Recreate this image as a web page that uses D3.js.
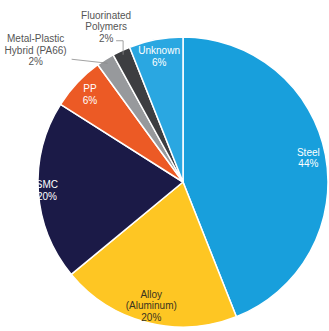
<!DOCTYPE html>
<html>
<head>
<meta charset="utf-8">
<script src="https://cdn.jsdelivr.net/npm/d3@7"></script>
<style>
  html, body { margin: 0; padding: 0; background: #fff; }
  svg { display: block; }
  text { font-family: "Liberation Sans", Arial, sans-serif; font-size: 10px; }
</style>
</head>
<body>
<svg id="chart" width="329" height="331"></svg>
<script>
// Material shares (percent), clockwise from 12 o'clock
const categories = ["Steel", "Alloy (Aluminum)", "SMC", "PP", "Metal-Plastic Hybrid (PA66)", "Fluorinated Polymers", "Unknown"];
const shares = [44, 20, 20, 6, 2, 2, 6];
const labelLines = [["Steel"], ["Alloy", "(Aluminum)"], ["SMC"], ["PP"], ["Metal-Plastic", "Hybrid (PA66)"], ["Fluorinated", "Polymers"], ["Unknown"]];
const colors = ["#189fdc", "#fec623", "#1b1a47", "#ec5a25", "#97999c", "#3d3e41", "#2aa7e1"];

const svg = d3.select("#chart");
const cx = 183, cy = 182, R = 145;
const g = svg.append("g").attr("transform", `translate(${cx},${cy})`);

const data = categories.map((c, i) => ({ name: c, value: shares[i], lines: labelLines[i], color: colors[i] }));
const pie = d3.pie().sort(null).value(d => d.value);
const arcs = pie(data);
const arc = d3.arc().innerRadius(0).outerRadius(R);

g.selectAll("path.slice")
  .data(arcs)
  .join("path")
  .attr("class", "slice")
  .attr("d", arc)
  .attr("fill", d => d.data.color)
  .attr("stroke", "#fff")
  .attr("stroke-width", 1.5)
  .attr("stroke-linejoin", "round");

const lineH = 11.5;
function writeLines(sel, lines, x, yCenter, fill) {
  const t = sel.append("text")
    .attr("text-anchor", "middle")
    .attr("fill", fill);
  const y0 = yCenter - (lines.length - 1) * lineH / 2 + 3.5;
  lines.forEach((l, i) => {
    t.append("tspan").attr("x", x).attr("y", y0 + i * lineH).text(l);
  });
}

// Inside labels for the larger slices
const insideRadius = { "SMC": 0.94 };
arcs.filter(d => d.data.value >= 5).forEach(d => {
  const k = insideRadius[d.data.name] || 0.88;
  const la = d3.arc().innerRadius(R * k).outerRadius(R * k);
  const [x, y] = la.centroid(d);
  const fill = d.data.name.startsWith("Alloy") ? "#3a3420" : "#ffffff";
  writeLines(g, d.data.lines.concat([d.data.value + "%"]), x, y, fill);
});

// Outside labels with leader lines for the 2% slices
const edge = d => {
  const a = (d.startAngle + d.endAngle) / 2;
  return [Math.sin(a) * R * 0.97, -Math.cos(a) * R * 0.97];
};
arcs.filter(d => d.data.value < 5).forEach(d => {
  const [ex, ey] = edge(d);
  const lines = d.data.lines.concat([d.data.value + "%"]);
  if (d.data.name.startsWith("Fluorinated")) {
    const elbowY = ey - 14;
    g.append("polyline")
      .attr("points", [[ex, ey], [ex, elbowY], [ex - 7, elbowY]].map(p => p.join(",")).join(" "))
      .attr("fill", "none").attr("stroke", "#8a8a8a").attr("stroke-width", 0.8);
    writeLines(g, lines, ex - 17, elbowY - 14, "#555");
  } else {
    g.append("line")
      .attr("x1", ex).attr("y1", ey)
      .attr("x2", ex - 36).attr("y2", ey - 4)
      .attr("stroke", "#8a8a8a").attr("stroke-width", 0.8);
    writeLines(g, lines, ex - 72, ey - 13, "#555");
  }
});
</script>
</body>
</html>
